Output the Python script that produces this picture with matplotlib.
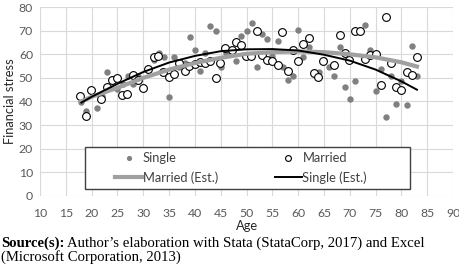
import matplotlib
matplotlib.use('Agg')
import matplotlib.pyplot as plt
from matplotlib.patches import Rectangle

# data
single_age = [18, 19, 20, 21, 22, 23, 24, 25, 26, 27, 28, 29, 31, 32, 33, 34, 35, 36, 37, 38,
              39, 40, 41, 42, 43, 44, 45, 46, 48, 49, 50, 51, 52, 53, 54, 55, 56, 57, 58, 59,
              60, 61, 62, 63, 64, 65, 66, 67, 68, 69, 70, 71, 73, 74, 75, 76, 77, 78, 79, 80,
              81, 82, 83]
single_fs = [39.7, 36.0, 45.0, 37.1, 42.4, 52.7, 49.4, 45.3, 47.3, 51.0, 47.5, 50.6, 53.2, 57.4,
             60.4, 58.8, 41.8, 58.8, 54.8, 56.2, 67.5, 61.9, 53.0, 60.7, 72.0, 70.0, 54.8, 60.4,
             57.2, 67.8, 69.9, 73.4, 54.5, 68.5, 66.4, 59.3, 65.8, 54.8, 48.9, 50.8, 70.2, 59.0,
             63.0, 52.7, 52.3, 57.6, 54.8, 50.6, 63.0, 46.3, 41.0, 48.5, 72.2, 61.9, 44.6, 53.7,
             33.3, 50.8, 38.9, 48.5, 38.6, 63.6, 50.6]

married_age = [17.8, 18.9, 19.9, 21.8, 22.9, 23.9, 24.9, 25.9, 26.9, 28, 28.9, 30, 30.9, 32,
               32.9, 33.9, 35, 36, 37, 38, 38.9, 40, 41, 42, 42.9, 44, 44.9, 45.9, 47.1, 48,
               49, 49.9, 50.9, 52, 53, 53.9, 55, 56, 56.9, 58, 59, 60, 61, 62, 63, 63.9, 64.9,
               66.9, 68, 69, 69.9, 71, 72, 73, 74, 75, 76, 77, 78, 79, 80, 81.1, 82, 83]
married_fs = [42.5, 33.9, 44.9, 41.0, 46.0, 49.2, 50.1, 42.6, 43.2, 51.1, 49.2, 45.9, 53.7, 58.8,
              59.3, 52.4, 50.3, 51.7, 56.2, 53.0, 55.2, 55.8, 56.8, 56.5, 57.0, 49.9, 56.2, 62.6,
              61.9, 65.4, 64.0, 59.3, 59.3, 69.7, 59.7, 57.4, 57.0, 55.3, 69.4, 52.8, 61.9, 57.2,
              64.3, 66.7, 52.0, 50.2, 57.2, 55.5, 68.1, 60.4, 57.6, 69.9, 69.9, 57.9, 59.7, 60.0,
              47.0, 75.6, 56.2, 46.3, 44.9, 52.7, 51.1, 58.8]

est_age = [18, 20, 25, 30, 35, 40, 45, 50, 55, 60, 65, 70, 75, 80, 83]
married_est = [40.0, 42.0, 45.8, 50.0, 53.5, 56.3, 58.5, 60.2, 60.9, 61.2, 60.9, 60.0, 58.7, 56.6, 54.8]
single_est = [39.5, 42.0, 47.5, 52.5, 56.5, 59.3, 61.3, 62.1, 62.2, 61.6, 59.8, 57.3, 53.5, 48.5, 45.0]

fig, ax = plt.subplots(figsize=(4.6, 2.71), dpi=100)
fig.subplots_adjust(left=0.087, right=0.985, top=0.974, bottom=0.277)

font = 'Lato'
tick_col = '#595959'

h1, = ax.plot(single_age, single_fs, linestyle='none', marker='o', markersize=3.6,
              color='#808080', label='Single', zorder=2)
h2, = ax.plot(married_age, married_fs, linestyle='none', marker='o', markersize=5.6,
              markerfacecolor='white', markeredgecolor='black', markeredgewidth=0.8,
              label='Married', zorder=3)
h3, = ax.plot(est_age, married_est, color='#a0a0a0', linewidth=3, label='Married (Est.)', zorder=4)
h4, = ax.plot(est_age, single_est, color='black', linewidth=1.4, label='Single (Est.)', zorder=5)

ax.set_xlim(10, 90)
ax.set_ylim(0, 80)
ax.set_xticks(range(10, 91, 5))
ax.set_yticks(range(0, 81, 10))
ax.grid(True, color='#d9d9d9', linewidth=0.8)
ax.set_axisbelow(True)
for s in ax.spines.values():
    s.set_visible(False)
ax.tick_params(length=0, labelsize=8.8, labelcolor=tick_col, pad=5)
ax.tick_params(axis='x', pad=9)
for lab in ax.get_xticklabels() + ax.get_yticklabels():
    lab.set_fontfamily(font)

ax.set_xlabel('Age', fontsize=9.3, fontfamily=font, color='#262626')
ax.set_ylabel('Financial stress', fontsize=9.3, fontfamily=font, color='#262626')
ax.xaxis.set_label_coords(0.5, -0.125)
ax.yaxis.set_label_coords(-0.057, 0.5)

# legend box, then the entries without their own frame
ax.add_patch(Rectangle((0.109, 0.037), 0.787, 0.222, transform=ax.transAxes, facecolor='white',
                       edgecolor='#404040', linewidth=1.0, zorder=6))
leg = ax.legend(handles=[h1, h3, h2, h4], ncol=2, loc='center',
                bbox_to_anchor=(0.1816, 0.148, 0.610, 0.0), mode='expand',
                prop={'family': font, 'size': 9.3}, frameon=False, markerscale=0.75,
                handlelength=2.1, handletextpad=0.05, labelspacing=0.55, borderpad=0,
                borderaxespad=0)
leg.set_zorder(7)
for t in leg.get_texts():
    t.set_color('#404040')

# source note, bold part first then the rest right after it
src_font = 'Liberation Serif'
t1 = fig.text(0.002, 0.1035, 'Source(s):', fontfamily=src_font, fontweight='bold',
              fontsize=10.6, va='center')
fig.canvas.draw()
bb = t1.get_window_extent()
fig.text((bb.x1 + 3) / fig.bbox.width, 0.1035,
         'Author\u2019s elaboration with Stata (StataCorp, 2017) and Excel',
         fontfamily=src_font, fontsize=10.6, va='center')
fig.text(0.002, 0.05, '(Microsoft Corporation, 2013)', fontfamily=src_font,
         fontsize=10.6, va='center')

fig.savefig('out.png', dpi=100)
